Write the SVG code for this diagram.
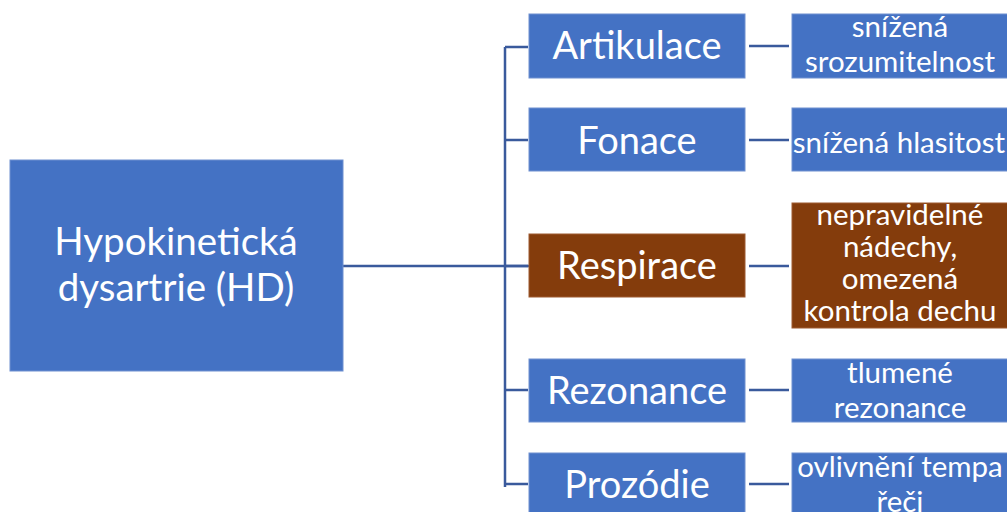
<svg xmlns="http://www.w3.org/2000/svg" width="1007" height="512" viewBox="0 0 1007 512">
<style>
.b{fill:#4472C4;stroke:#6E90D0;stroke-width:1}
.r{fill:#843C0C;stroke:#9E5A30;stroke-width:1}
.t{fill:#fff;font-family:Lato,"Open Sans",sans-serif;text-anchor:middle}
.l{font-size:38px}
.m{font-size:38.5px}
.s{font-size:29.5px}
.c{stroke:#3A5A9C;stroke-width:2.5;fill:none}
</style>
<rect width="1007" height="512" fill="#fff"/>
<g id="connectors" class="c">
<path d="M343 266H529"/>
<path d="M505 47V487"/>
<path d="M505 47H528M505 140H528M505 266H528M505 390H528M505 484H528"/>
<path d="M749 46H789M749 140H789M749 266H789M749 390H789M749 484H789"/>
</g>
<g id="main"><rect class="b" x="10" y="160" width="333" height="211"/>
<text class="t m" x="176" y="255">Hypokinetická</text><text class="t m" x="176" y="301">dysartrie (HD)</text></g>
<g id="artikulace"><rect class="b" x="529" y="14" width="216" height="64"/><text class="t l" x="637" y="59">Artikulace</text></g>
<g id="fonace"><rect class="b" x="529" y="108" width="216" height="63"/><text class="t l" x="637" y="154">Fonace</text></g>
<g id="respirace"><rect class="r" x="529" y="234" width="216" height="63"/><text class="t l" x="637" y="279">Respirace</text></g>
<g id="rezonance"><rect class="b" x="529" y="359" width="216" height="63"/><text class="t l" x="637" y="404">Rezonance</text></g>
<g id="prozodie"><rect class="b" x="529" y="453" width="216" height="63"/><text class="t l" x="637" y="498">Prozódie</text></g>
<g id="artikulace-d"><rect class="b" x="792" y="14" width="216" height="64"/><text class="t s" x="900" y="37">snížená</text><text class="t s" x="900" y="72">srozumitelnost</text></g>
<g id="fonace-d"><rect class="b" x="792" y="108" width="216" height="63"/><text class="t s" x="899" y="153">snížená hlasitost</text></g>
<g id="respirace-d"><rect class="r" x="792" y="203" width="216" height="125"/><text class="t s" x="900" y="225">nepravidelné</text><text class="t s" x="900" y="257">nádechy,</text><text class="t s" x="900" y="289">omezená</text><text class="t s" x="900" y="321">kontrola dechu</text></g>
<g id="rezonance-d"><rect class="b" x="792" y="359" width="216" height="63"/><text class="t s" x="900" y="383">tlumené</text><text class="t s" x="900" y="418">rezonance</text></g>
<g id="prozodie-d"><rect class="b" x="792" y="453" width="216" height="63"/><text class="t s" x="900" y="477">ovlivnění tempa</text><text class="t s" x="900" y="512">řeči</text></g>
</svg>
